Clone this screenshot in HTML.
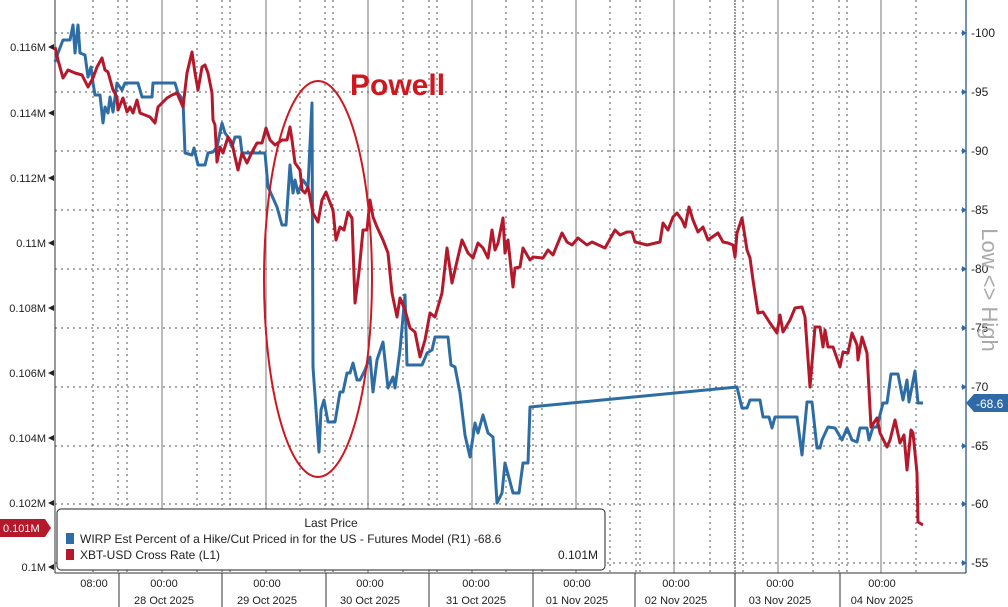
<!DOCTYPE html>
<html><head><style>
body{margin:0;background:#fff;}
svg{display:block;font-family:"Liberation Sans",sans-serif;}
</style></head><body>
<svg width="1008" height="607" viewBox="0 0 1008 607">
<rect width="1008" height="607" fill="#fff"/>
<g stroke="#555" stroke-dasharray="2,4" stroke-width="1">
<line x1="55" x2="966" y1="33" y2="33"/><line x1="55" x2="966" y1="92" y2="92"/>
<line x1="55" x2="966" y1="151" y2="151"/><line x1="55" x2="966" y1="210" y2="210"/>
<line x1="55" x2="966" y1="269" y2="269"/><line x1="55" x2="966" y1="328" y2="328"/>
<line x1="55" x2="966" y1="387" y2="387"/><line x1="55" x2="966" y1="446" y2="446"/>
<line x1="55" x2="966" y1="504" y2="504"/><line x1="55" x2="966" y1="563" y2="563"/>
</g>
<g stroke="#555" stroke-dasharray="2,4">
<line x1="93" x2="93" y1="0" y2="573"/><line x1="118" x2="118" y1="0" y2="573"/><line x1="127" x2="127" y1="0" y2="573"/>
<line x1="197" x2="197" y1="0" y2="573"/><line x1="222" x2="222" y1="0" y2="573"/><line x1="230" x2="230" y1="0" y2="573"/>
<line x1="300" x2="300" y1="0" y2="573"/><line x1="325" x2="325" y1="0" y2="573"/><line x1="333" x2="333" y1="0" y2="573"/>
<line x1="403" x2="403" y1="0" y2="573"/><line x1="429" x2="429" y1="0" y2="573"/><line x1="437" x2="437" y1="0" y2="573"/>
<line x1="506" x2="506" y1="0" y2="573"/><line x1="533" x2="533" y1="0" y2="573"/><line x1="542" x2="542" y1="0" y2="573"/>
<line x1="610" x2="610" y1="0" y2="573"/><line x1="636" x2="636" y1="0" y2="573"/><line x1="640" x2="640" y1="0" y2="573"/>
<line x1="710" x2="710" y1="0" y2="573"/><line x1="743" x2="743" y1="0" y2="573"/>
<line x1="813" x2="813" y1="0" y2="573"/><line x1="839" x2="839" y1="0" y2="573"/><line x1="847" x2="847" y1="0" y2="573"/>
<line x1="916" x2="916" y1="0" y2="573"/>
</g>
<g stroke="#777" stroke-width="1">
<line x1="162" x2="162" y1="0" y2="573"/><line x1="266" x2="266" y1="0" y2="573"/><line x1="368" x2="368" y1="0" y2="573"/>
<line x1="472" x2="472" y1="0" y2="573"/><line x1="576" x2="576" y1="0" y2="573"/><line x1="674" x2="674" y1="0" y2="573"/>
<line x1="778" x2="778" y1="0" y2="573"/><line x1="881" x2="881" y1="0" y2="573"/>
</g>
<line x1="735" x2="735" y1="0" y2="573" stroke="#333" stroke-dasharray="2,1"/>
<line x1="735" x2="735" y1="573" y2="607" stroke="#222"/>
<line x1="55" x2="55" y1="0" y2="573" stroke="#333"/>
<line x1="966" x2="966" y1="0" y2="573" stroke="#4a6f95" stroke-width="1.5"/>
<line x1="55" x2="966" y1="573" y2="573" stroke="#333"/>
<g stroke="#333"><line x1="119" x2="119" y1="573" y2="607"/><line x1="222" x2="222" y1="573" y2="607"/><line x1="326" x2="326" y1="573" y2="607"/><line x1="429" x2="429" y1="573" y2="607"/><line x1="533" x2="533" y1="573" y2="607"/><line x1="635" x2="635" y1="573" y2="607"/><line x1="840" x2="840" y1="573" y2="607"/></g>
<g font-size="11" fill="#222" text-anchor="end">
<text x="46" y="51">0.116M</text><text x="46" y="117">0.114M</text><text x="46" y="182">0.112M</text>
<text x="46" y="247">0.11M</text><text x="46" y="312">0.108M</text><text x="46" y="377">0.106M</text>
<text x="46" y="442">0.104M</text><text x="46" y="507">0.102M</text><text x="46" y="571">0.1M</text>
</g>
<g fill="#222"><path d="M48,47l6,-3v6z"/><path d="M48,113l6,-3v6z"/><path d="M48,178l6,-3v6z"/><path d="M48,243l6,-3v6z"/><path d="M48,308l6,-3v6z"/><path d="M48,373l6,-3v6z"/><path d="M48,438l6,-3v6z"/><path d="M48,503l6,-3v6z"/><path d="M48,567l6,-3v6z"/></g>
<path d="M0,519h45l6,9l-6,9h-45z" fill="#b5182b"/>
<text x="3" y="532" font-size="11" fill="#fff">0.101M</text>
<g font-size="12" fill="#222">
<text x="971" y="37">-100</text><text x="971" y="96">-95</text><text x="971" y="155">-90</text>
<text x="971" y="214">-85</text><text x="971" y="273">-80</text><text x="971" y="332">-75</text>
<text x="971" y="391">-70</text><text x="971" y="450">-65</text><text x="971" y="508">-60</text><text x="971" y="567">-55</text>
</g>
<g fill="#2f6aa6"><path d="M967,33l-5,-3v6z"/><path d="M967,92l-5,-3v6z"/><path d="M967,151l-5,-3v6z"/><path d="M967,210l-5,-3v6z"/><path d="M967,269l-5,-3v6z"/><path d="M967,328l-5,-3v6z"/><path d="M967,387l-5,-3v6z"/><path d="M967,446l-5,-3v6z"/><path d="M967,504l-5,-3v6z"/><path d="M967,563l-5,-3v6z"/></g>
<path d="M966,403l8,-9h34v18h-34z" fill="#2f6aa6"/>
<text x="976" y="408" font-size="12" fill="#fff">-68.6</text>
<text transform="translate(982,290) rotate(90)" font-size="22" fill="#aaa" text-anchor="middle">Low &lt;&gt; High</text>
<g font-size="11" fill="#222" text-anchor="middle">
<text x="94" y="587">08:00</text>
<text x="164" y="587">00:00</text><text x="164" y="604">28 Oct 2025</text>
<text x="267" y="587">00:00</text><text x="267" y="604">29 Oct 2025</text>
<text x="370" y="587">00:00</text><text x="370" y="604">30 Oct 2025</text>
<text x="476" y="587">00:00</text><text x="476" y="604">31 Oct 2025</text>
<text x="577" y="587">00:00</text><text x="577" y="604">01 Nov 2025</text>
<text x="676" y="587">00:00</text><text x="676" y="604">02 Nov 2025</text>
<text x="780" y="587">00:00</text><text x="780" y="604">03 Nov 2025</text>
<text x="882" y="587">00:00</text><text x="882" y="604">04 Nov 2025</text>
</g>
<polyline fill="none" stroke="#2e6da4" stroke-width="3" stroke-linejoin="round" points="55,62 58,53 63,40 70,40 73,25 75,53 78,25 80,53 85,55 88,77 91,67 93,83 95,95 100,95 103,123 105,107 108,113 110,97 113,112 117,83 122,90 125,83 138,83 142,97 152,97 153,83 175,83 178,93 183,100 185,153 192,155 194,148 198,165 205,165 208,153 213,152 217,147 222,123 225,133 228,137 232,147 235,137 240,137 242,153 265,153 268,187 273,198 277,207 282,225 286,225 290,165 293,193 295,180 298,193 303,180 308,187 312,103 313,367 319,452 321,410 324,400 328,422 335,422 340,392 343,392 347,373 350,373 353,363 357,380 360,380 365,370 370,357 373,392 377,360 383,342 388,388 393,377 395,388 400,350 405,295 407,365 422,365 425,358 427,353 432,350 435,337 448,337 451,365 455,367 460,393 465,435 470,457 475,423 478,433 483,415 488,433 493,437 497,503 502,493 505,463 513,493 519,493 523,463 528,463 530,407 737,387 742,408 747,408 750,400 760,400 763,417 769,417 772,428 775,417 797,417 802,455 807,402 812,402 817,448 820,448 822,440 828,427 835,428 842,440 847,428 852,440 857,442 860,428 867,428 869,440 873,427 877,427 883,403 887,403 891,374 898,374 903,400 907,380 909,402 915,371 918,403 923,403"/>
<polyline fill="none" stroke="#b5182b" stroke-width="3" stroke-linejoin="round" points="55,47 58,60 63,78 68,70 75,73 82,75 88,87 93,78 97,67 102,58 105,70 108,72 113,90 117,97 118,110 123,98 127,112 130,107 133,113 137,100 140,113 145,115 150,117 155,123 158,107 162,103 167,98 172,95 177,93 183,107 187,73 192,52 195,73 198,90 202,67 205,65 208,73 212,93 213,120 215,125 217,162 220,147 223,153 228,137 232,143 235,157 238,170 242,153 247,163 252,152 257,143 262,143 266,128 270,140 275,145 282,140 287,140 290,127 292,140 295,163 300,170 302,190 305,193 308,187 313,213 318,222 322,200 326,192 329,200 333,210 336,240 340,227 344,230 348,212 352,218 355,303 359,272 363,230 367,230 370,200 373,217 377,227 383,240 388,253 392,293 397,317 400,298 405,310 410,328 415,332 420,357 425,340 430,313 435,317 442,293 447,248 452,283 458,257 462,240 468,253 473,258 478,243 483,248 488,258 492,230 495,250 498,243 503,218 505,253 508,240 513,287 515,268 520,267 523,248 530,260 533,257 543,258 548,250 553,255 562,233 567,242 572,245 578,238 587,245 592,242 605,248 615,230 620,235 627,232 632,232 635,242 647,245 660,242 663,223 668,230 673,217 677,213 682,220 685,227 689,207 693,220 698,232 703,227 708,240 718,233 723,242 728,243 733,245 735,257 737,233 742,218 747,250 750,258 753,280 758,313 763,312 770,323 777,333 780,315 783,332 790,320 795,308 802,307 805,317 810,387 815,327 820,327 823,347 825,330 828,347 833,347 840,367 843,352 848,353 852,333 857,345 858,360 862,337 867,353 871,427 877,418 880,433 887,447 890,440 895,420 900,443 904,435 907,470 911,430 913,433 917,473 918,522 923,525"/>
<ellipse cx="318" cy="279" rx="54" ry="198" fill="none" stroke="#d0161e" stroke-width="2"/>
<text x="350" y="95" font-size="30" font-weight="bold" fill="#d0161e">Powell</text>
<rect x="57" y="509" width="548" height="61" rx="4" fill="#fff" stroke="#222"/>
<text x="331" y="527" font-size="12" text-anchor="middle" fill="#222">Last Price</text>
<rect x="66" y="533" width="8" height="11" fill="#2e6da4"/>
<text x="80" y="543" font-size="12" fill="#222">WIRP Est Percent of a Hike/Cut Priced in for the US - Futures Model  (R1) -68.6</text>
<rect x="66" y="549" width="8" height="11" fill="#b5182b"/>
<text x="80" y="559" font-size="12" fill="#222">XBT-USD Cross Rate  (L1)</text>
<text x="598" y="559" font-size="12" fill="#222" text-anchor="end">0.101M</text>
</svg>
</body></html>
